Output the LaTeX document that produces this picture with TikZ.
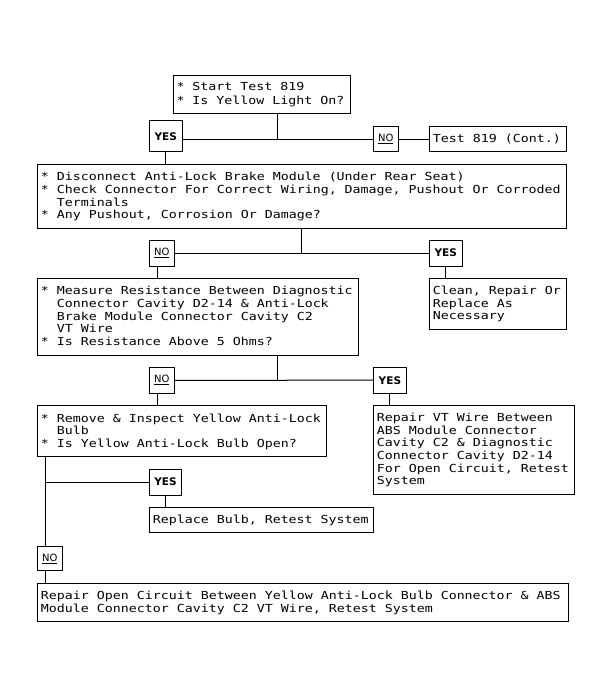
\documentclass[tikz,border=0pt]{standalone}
\usepackage{fontspec}
\newfontfamily\boxfont[FakeStretch=1.2]{DejaVu Sans Mono}
\newfontfamily\lblfont{DejaVu Sans}
\newcommand\fstr{\spaceskip=8pt\relax\xspaceskip=8pt\relax\vrule width0pt height9.5pt depth0pt\relax}
\newcommand\lstr{\vrule width0pt height0pt depth2.5pt\relax}
\newcommand\ind{\hspace*{16pt}}
\newcommand\st{\relax*}
\newcommand\myls{\lineskiplimit=-20pt\relax\lineskip=0pt\relax}
\tikzset{
  box/.style={draw, line width=1pt, rectangle, inner xsep=3.5pt, inner ysep=0pt, align=left,
    font=\boxfont\fontsize{11.07}{12.65}\selectfont\myls},
  lab/.style={draw, line width=1pt, rectangle, inner sep=0pt},
  yesl/.style={lab, font=\lblfont\bfseries\fontsize{10.5}{12}\selectfont},
  nol/.style={lab, font=\lblfont\fontsize{10}{12}\selectfont},
  conn/.style={line width=1pt}
}
\begin{document}
\begin{tikzpicture}[x=1pt,y=-1pt]
\useasboundingbox[fill=white] (0,0) rectangle (612,697);

% boxes
\node[box, minimum width=177pt, minimum height=38pt, text width=170pt,
  font=\boxfont\fontsize{11.07}{14.3}\selectfont\myls]
  (start) at (261.5,94) {\fstr\st{} Start Test 819\\\st{} Is Yellow Light On?\lstr};
\node[yesl, minimum width=33pt, minimum height=31pt] (yes1) at (165.8,136.2) {YES};
\node[nol, minimum width=25pt, minimum height=25pt] (no1) at (385.8,139.2) {\underline{NO}};
\node[box, minimum width=136.7pt, minimum height=25pt, text width=129.7pt]
  (test) at (497.7,139.2) {\fstr Test 819 (Cont.)\lstr};
\node[box, minimum width=528.7pt, minimum height=64pt, text width=521.7pt]
  (disc) at (301.7,196.3) {\fstr\st{} Disconnect Anti-Lock Brake Module (Under Rear Seat)\\\st{} Check Connector For Correct Wiring, Damage, Pushout Or Corroded\\\ind Terminals\\\st{} Any Pushout, Corrosion Or Damage?\lstr};
\node[nol, minimum width=24.7pt, minimum height=26pt] (no2) at (161.7,253) {\underline{NO}};
\node[yesl, minimum width=33pt, minimum height=26pt] (yes2) at (445.8,253) {YES};
\node[box, minimum width=136.7pt, minimum height=50.7pt, text width=129.7pt]
  (clean) at (497.7,303.7) {\fstr Clean, Repair Or\\Replace As\\Necessary\lstr};
\node[box, minimum width=320.7pt, minimum height=77pt, text width=313.7pt]
  (measure) at (197.7,316.7) {\fstr\st{} Measure Resistance Between Diagnostic\\\ind Connector Cavity D2-14 \& Anti-Lock\\\ind Brake Module Connector Cavity C2\\\ind VT Wire\\\st{} Is Resistance Above 5 Ohms?\lstr};
\node[nol, minimum width=24.7pt, minimum height=26pt] (no3) at (161.7,380.3) {\underline{NO}};
\node[yesl, minimum width=33.2pt, minimum height=26.3pt] (yes3) at (389.9,380.2) {YES};
\node[box, minimum width=288.7pt, minimum height=51pt, text width=281.7pt]
  (remove) at (181.7,431.2) {\fstr\st{} Remove \& Inspect Yellow Anti-Lock\\\ind Bulb\\\st{} Is Yellow Anti-Lock Bulb Open?\lstr};
\node[box, minimum width=200.7pt, minimum height=89.3pt, text width=193.7pt]
  (repairvt) at (473.7,449.7) {\fstr Repair VT Wire Between\\ABS Module Connector\\Cavity C2 \& Diagnostic\\Connector Cavity D2-14\\For Open Circuit, Retest\\System\lstr};
\node[yesl, minimum width=32.4pt, minimum height=26pt] (yes4) at (165.5,482) {YES};
\node[box, minimum width=224pt, minimum height=24.6pt, text width=217pt]
  (replace) at (261.3,520) {\fstr Replace Bulb, Retest System\lstr};
\node[nol, minimum width=25pt, minimum height=24pt] (no4) at (49.8,558.7) {\underline{NO}};
\node[box, minimum width=531pt, minimum height=37.7pt, text width=524pt]
  (repairopen) at (302.9,602.2) {\fstr Repair Open Circuit Between Yellow Anti-Lock Bulb Connector \& ABS\\Module Connector Cavity C2 VT Wire, Retest System\lstr};

% junctions
\coordinate (j1) at (277,139.3);
\coordinate (j2) at (301.7,253.3);
\coordinate (j3) at (277.3,380);
\coordinate (j4) at (45,482.3);

% connectors
\draw[conn] (start.south -| j1) -- (j1);
\draw[conn] (yes1.east |- j1) -- (no1.west |- j1);
\draw[conn] (no1.east) -- (test.west);
\draw[conn] (yes1.south) -- (yes1.south |- disc.north);

\draw[conn] (disc.south -| j2) -- (j2);
\draw[conn] (no2.east) -- (yes2.west);
\draw[conn] ([xshift=-4.4pt]no2.south) -- ([xshift=-4.4pt]no2.south |- measure.north);
\draw[conn] (yes2.south) -- (yes2.south |- clean.north);

\draw[conn] (measure.south -| j3) -- (j3);
\draw[conn] (no3.east) -- (yes3.west);
\draw[conn] ([xshift=-4.4pt]no3.south) -- ([xshift=-4.4pt]no3.south |- remove.north);
\draw[conn] (yes3.south) -- (yes3.south |- repairvt.north);

\draw[conn] (remove.south -| j4) -- ([xshift=-4.8pt]no4.north);
\draw[conn] (j4) -- (j4 -| yes4.west);
\draw[conn] (yes4.south) -- (yes4.south |- replace.north);
\draw[conn] ([xshift=-4.8pt]no4.south) -- ([xshift=-4.8pt]no4.south |- repairopen.north);
\end{tikzpicture}
\end{document}
